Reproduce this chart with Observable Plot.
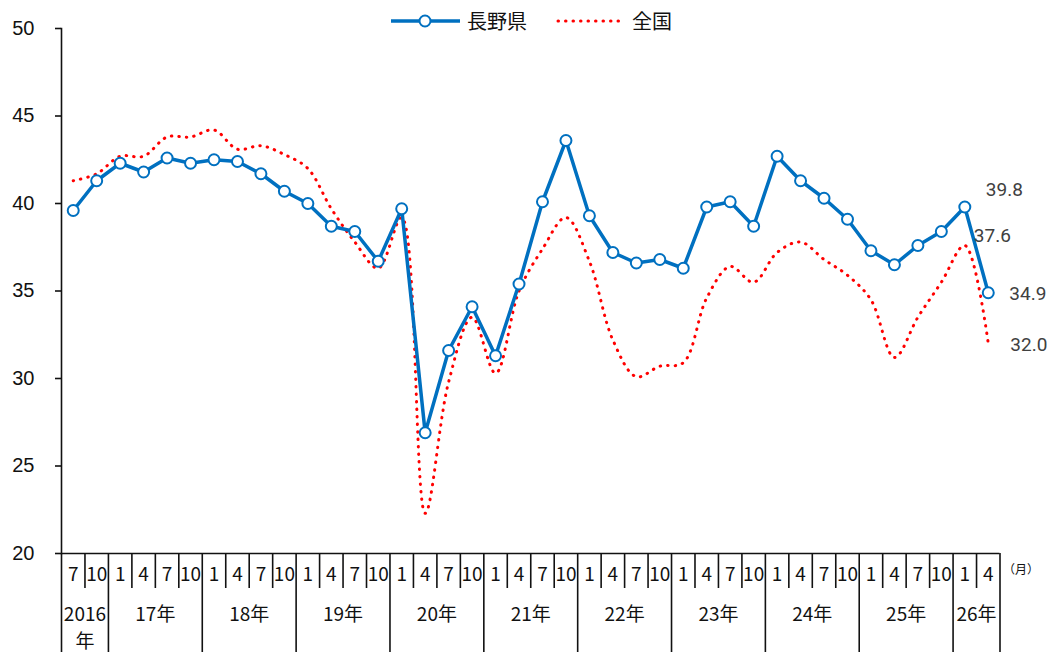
<!DOCTYPE html>
<html>
<head>
<meta charset="utf-8">
<script src="https://cdn.jsdelivr.net/npm/d3@7"></script>
<script src="https://cdn.jsdelivr.net/npm/@observablehq/plot@0.6"></script>
<style>
  html, body { margin: 0; padding: 0; background: #fff; overflow: hidden; }
  #wrap { position: relative; width: 1049px; height: 652px; }
  #chart svg { display: block; }
  #legend { position: absolute; left: 0; top: 0; width: 1049px; height: 40px; pointer-events: none; }
  #legend .lab { position: absolute; top: 9px; font-family: "Noto Sans CJK JP", sans-serif; font-size: 20px; line-height: 24px; color: #111; }
</style>
</head>
<body>
<div id="wrap">
  <div id="chart"></div>
  <div id="legend">
    <svg width="1049" height="40" style="position:absolute;left:0;top:0">
      <line x1="391" x2="460" y1="21" y2="21" stroke="#0070C0" stroke-width="3.5"></line>
      <circle cx="425" cy="21" r="5.5" fill="#fff" stroke="#0070C0" stroke-width="2"></circle>
      <line x1="558" x2="622" y1="21" y2="21" stroke="#FF0000" stroke-width="3" stroke-linecap="round" stroke-dasharray="0.5 7"></line>
    </svg>
    <span class="lab" style="left:467px">長野県</span>
    <span class="lab" style="left:632px">全国</span>
  </div>
</div>
<script>
// ---- data ----
const months = [7,10, 1,4,7,10, 1,4,7,10, 1,4,7,10, 1,4,7,10, 1,4,7,10, 1,4,7,10, 1,4,7,10, 1,4,7,10, 1,4,7,10, 1,4];
const yearLabels = ["2016\n年","17年","18年","19年","20年","21年","22年","23年","24年","25年","26年"];
const nagano = [39.6,41.3,42.3,41.8,42.6,42.3,42.5,42.4,41.7,40.7,
                40.0,38.7,38.4,36.7,39.7,26.9,31.6,34.1,31.3,35.4,
                40.1,43.6,39.3,37.2,36.6,36.8,36.3,39.8,40.1,38.7,
                42.7,41.3,40.3,39.1,37.3,36.5,37.6,38.4,39.8,34.9];
const zenkoku = [41.3,41.7,42.7,42.7,43.8,43.8,44.2,43.1,43.3,42.8,
                 42.0,39.7,37.8,36.3,39.2,22.3,29.8,33.5,30.3,35.0,
                 37.4,39.2,36.7,32.2,30.1,30.7,30.9,34.6,36.4,35.5,
                 37.2,37.8,36.8,35.9,34.5,31.2,33.5,35.5,37.6,32.0];
const yTicks = [20,25,30,35,40,45,50];
const monthUnit = "（月）";

// ---- derived tables ----
const rows = months.map((m, i) => ({i, month: m, nagano: nagano[i], zenkoku: zenkoku[i]}));
const groups = [];
months.forEach((m, i) => {
  if (i === 0 || m === 1) groups.push({start: i, end: i});
  else groups[groups.length - 1].end = i;
});
groups.forEach((g, k) => { g.label = yearLabels[k]; g.center = (g.start + g.end) / 2; });
const yearBounds = groups.map(g => g.start - 0.5).concat([months.length - 0.5]);
const monthBounds = rows.filter(r => r.i > 0 && r.month !== 1).map(r => r.i - 0.5);
const n = months.length;
const lastN = [rows[n - 2], rows[n - 1]];

const marginTop = 28, marginBottom = 99, height = 652;
const plotH = height - marginTop - marginBottom;
const fmt = d3.format(".1f");
const cjk = "'Noto Sans CJK JP', sans-serif";

const chart = Plot.plot({
  width: 1049,
  height,
  marginTop,
  marginBottom,
  marginLeft: 61,
  marginRight: 49.5,
  style: {fontFamily: "'Liberation Sans', Arial, sans-serif", background: "#fff", color: "#111", overflow: "visible"},
  x: {domain: [-0.5, n - 0.5], axis: null},
  y: {domain: [20, 50], axis: null},
  marks: [
    Plot.axisY({ticks: yTicks, tickSize: 6, tickPadding: 21, fontSize: 20, strokeWidth: 1.6, tickFormat: d => d, fill: "#111"}),
    Plot.frame({anchor: "left", strokeWidth: 1.6}),
    Plot.ruleY([20], {strokeWidth: 1.6}),
    // category separators under the axis
    Plot.ruleX(monthBounds, {x: d => d, insetTop: plotH, insetBottom: -35, strokeWidth: 1.6}),
    Plot.ruleX(yearBounds, {x: d => d, insetTop: plotH, insetBottom: -99, strokeWidth: 1.6}),
    Plot.text(rows, {x: "i", text: d => String(d.month), frameAnchor: "bottom", dy: 27, fontSize: 19,
      fontFamily: cjk, fill: "#111"}),
    Plot.text(groups, {x: "center", text: "label", frameAnchor: "bottom", lineAnchor: "top", dy: 48, lineHeight: 1.42,
      fontSize: 19, fontFamily: cjk, fill: "#111"}),
    Plot.text([monthUnit], {frameAnchor: "bottom-right", textAnchor: "middle", text: d => d, dx: 21, dy: 20, fontSize: 12,
      fontFamily: cjk, fill: "#111"}),
    // series
    Plot.line(rows, {x: "i", y: "zenkoku", stroke: "#FF0000", strokeWidth: 3, curve: "catmull-rom",
      strokeDasharray: "0.5 7", strokeLinecap: "round"}),
    Plot.line(rows, {x: "i", y: "nagano", stroke: "#0070C0", strokeWidth: 3.5}),
    Plot.dot(rows, {x: "i", y: "nagano", r: 5.5, fill: "#fff", stroke: "#0070C0", strokeWidth: 2}),
    // end labels
    Plot.text([lastN[0]], {x: "i", y: "nagano", text: d => fmt(d.nagano), textAnchor: "start", dx: 21, dy: -17,
      fontSize: 19, fontFamily: "Roboto, sans-serif", fill: "#404040"}),
    Plot.text([lastN[1]], {x: "i", y: "nagano", text: d => fmt(d.nagano), textAnchor: "start", dx: 21, dy: 1,
      fontSize: 19, fontFamily: "Roboto, sans-serif", fill: "#404040"}),
    Plot.text([lastN[0]], {x: "i", y: "zenkoku", text: d => fmt(d.zenkoku), textAnchor: "start", dx: 9, dy: -10,
      fontSize: 19, fontFamily: "Roboto, sans-serif", fill: "#404040"}),
    Plot.text([lastN[1]], {x: "i", y: "zenkoku", text: d => fmt(d.zenkoku), textAnchor: "start", dx: 22, dy: 1,
      fontSize: 19, fontFamily: "Roboto, sans-serif", fill: "#404040"})
  ]
});
document.getElementById("chart").appendChild(chart);
</script>
</body>
</html>
